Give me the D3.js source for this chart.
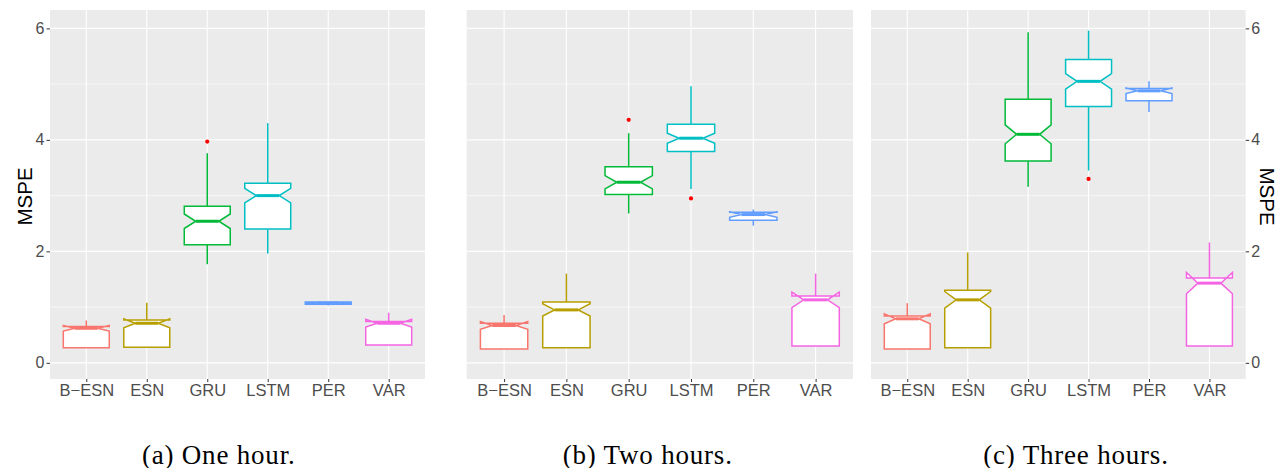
<!DOCTYPE html>
<html>
<head>
<meta charset="utf-8">
<script src="https://cdn.jsdelivr.net/npm/d3@7"></script>
<style>
  html, body { margin: 0; padding: 0; background: #ffffff; }
  svg { display: block; }
</style>
</head>
<body>
<svg id="chart" width="1280" height="468"></svg>
<script>
// Forecasting models compared on each horizon
const categories = ["B\u2212ESN", "ESN", "GRU", "LSTM", "PER", "VAR"];
const colors = ["#F8766D", "#B79F00", "#00BA38", "#00BFC4", "#619CFF", "#F564E3"];

// Box statistics per model: [ymin, lower, notchLower, median, notchUpper, upper, ymax]
const oneHourStats = [
  [0.27, 0.27, 0.57, 0.62, 0.67, 0.65, 0.76],
  [0.28, 0.28, 0.63, 0.71, 0.79, 0.77, 1.08],
  [1.77, 2.12, 2.41, 2.54, 2.67, 2.81, 3.76],
  [1.96, 2.40, 2.87, 3.00, 3.13, 3.22, 4.30],
  [1.03, 1.05, 1.065, 1.07, 1.075, 1.09, 1.10],
  [0.32, 0.32, 0.64, 0.71, 0.78, 0.74, 0.90]
];
const oneHourOutliers = [[], [], [3.97], [], [], []];

const twoHourStats = [
  [0.25, 0.25, 0.60, 0.67, 0.74, 0.71, 0.86],
  [0.27, 0.27, 0.84, 0.95, 1.06, 1.09, 1.60],
  [2.68, 3.02, 3.12, 3.24, 3.36, 3.52, 4.12],
  [3.12, 3.79, 3.94, 4.03, 4.12, 4.28, 4.96],
  [2.46, 2.56, 2.61, 2.66, 2.71, 2.70, 2.75],
  [0.30, 0.30, 0.99, 1.13, 1.27, 1.20, 1.60]
];
const twoHourOutliers = [[], [], [4.36], [2.95], [], []];

const threeHourStats = [
  [0.25, 0.25, 0.70, 0.79, 0.88, 0.84, 1.07],
  [0.27, 0.27, 0.98, 1.13, 1.28, 1.30, 1.98],
  [3.16, 3.62, 3.93, 4.10, 4.27, 4.73, 5.93],
  [3.45, 4.60, 4.91, 5.05, 5.19, 5.44, 5.96],
  [4.50, 4.70, 4.83, 4.88, 4.93, 4.92, 5.05],
  [0.30, 0.30, 1.24, 1.43, 1.62, 1.52, 2.16]
];
const threeHourOutliers = [[], [], [], [3.30], [], []];

const yMajorTicks = [0, 2, 4, 6];
const yMinorTicks = [1, 3, 5];
const yDomain = [-0.29, 6.33];
const captions = ["(a) One hour.", "(b) Two hours.", "(c) Three hours."];

const svg = d3.select("#chart");
const plotTop = 10, plotBottom = 379;

const layout = [
  { x0: 50, x1: 425, stats: oneHourStats, outliers: oneHourOutliers, axis: "left", capX: 218.7 },
  { x0: 466.7, x1: 853, stats: twoHourStats, outliers: twoHourOutliers, axis: null, capX: 647.7 },
  { x0: 871, x1: 1245.7, stats: threeHourStats, outliers: threeHourOutliers, axis: "right", capX: 1076 }
];

const y = d3.scaleLinear().domain(yDomain).range([plotBottom, plotTop]);

layout.forEach((p, pi) => {
  const x = d3.scalePoint().domain(categories).range([p.x0, p.x1]).padding(0.6);
  const step = x.step();
  const boxW = step * 0.76;
  const g = svg.append("g");

  // panel background
  g.append("rect")
    .attr("x", p.x0).attr("y", plotTop)
    .attr("width", p.x1 - p.x0).attr("height", plotBottom - plotTop)
    .attr("fill", "#EBEBEB");

  // grid lines
  g.selectAll(".minor").data(yMinorTicks).join("line")
    .attr("x1", p.x0).attr("x2", p.x1)
    .attr("y1", d => y(d)).attr("y2", d => y(d))
    .attr("stroke", "#ffffff").attr("stroke-width", 0.6);
  g.selectAll(".major").data(yMajorTicks).join("line")
    .attr("x1", p.x0).attr("x2", p.x1)
    .attr("y1", d => y(d)).attr("y2", d => y(d))
    .attr("stroke", "#ffffff").attr("stroke-width", 1.1);
  g.selectAll(".vgrid").data(categories).join("line")
    .attr("x1", d => x(d)).attr("x2", d => x(d))
    .attr("y1", plotTop).attr("y2", plotBottom)
    .attr("stroke", "#ffffff").attr("stroke-width", 1.1);

  // boxes
  categories.forEach((c, i) => {
    const [ymin, lower, nLow, med, nUp, upper, ymax] = p.stats[i];
    const cx = x(c);
    const xmin = cx - boxW / 2, xmax = cx + boxW / 2;
    const inset = boxW * 0.25;
    const col = colors[i];
    const bg = g.append("g");

    // whiskers
    bg.append("line")
      .attr("x1", cx).attr("x2", cx)
      .attr("y1", y(upper)).attr("y2", y(ymax))
      .attr("stroke", col).attr("stroke-width", 1.5);
    bg.append("line")
      .attr("x1", cx).attr("x2", cx)
      .attr("y1", y(lower)).attr("y2", y(ymin))
      .attr("stroke", col).attr("stroke-width", 1.5);

    // notched box
    const pts = [
      [xmin, y(lower)], [xmin, y(nLow)], [xmin + inset, y(med)],
      [xmin, y(nUp)], [xmin, y(upper)], [xmax, y(upper)],
      [xmax, y(nUp)], [xmax - inset, y(med)], [xmax, y(nLow)],
      [xmax, y(lower)]
    ];
    bg.append("path")
      .attr("d", d3.line()(pts) + "Z")
      .attr("fill", "#ffffff")
      .attr("stroke", col).attr("stroke-width", 1.5)
      .attr("stroke-linejoin", "miter");

    // median
    bg.append("line")
      .attr("x1", xmin + inset).attr("x2", xmax - inset)
      .attr("y1", y(med)).attr("y2", y(med))
      .attr("stroke", col).attr("stroke-width", 3);

    // outliers
    bg.selectAll("circle").data(p.outliers[i]).join("circle")
      .attr("cx", cx).attr("cy", d => y(d)).attr("r", 2.1)
      .attr("fill", "#FF0000");
  });

  // x axis
  const xAxis = g.append("g")
    .attr("transform", `translate(0,${plotBottom})`)
    .call(d3.axisBottom(x).tickSize(3).tickPadding(2));
  xAxis.select(".domain").remove();
  xAxis.selectAll(".tick line").attr("stroke", "#333333").attr("stroke-width", 1);
  xAxis.selectAll(".tick text")
    .attr("fill", "#4D4D4D")
    .style("font-family", "'Liberation Sans', Arial, sans-serif")
    .style("font-size", "16.5px");

  // y axis
  if (p.axis) {
    const isLeft = p.axis === "left";
    const yAxis = g.append("g")
      .attr("transform", `translate(${isLeft ? p.x0 : p.x1},0)`)
      .call((isLeft ? d3.axisLeft(y) : d3.axisRight(y))
        .tickValues(yMajorTicks).tickFormat(d3.format("d"))
        .tickSize(3.5).tickPadding(2));
    yAxis.select(".domain").remove();
    yAxis.selectAll(".tick line").attr("stroke", "#333333").attr("stroke-width", 1);
    yAxis.selectAll(".tick text")
      .attr("fill", "#4D4D4D")
      .style("font-family", "'Liberation Sans', Arial, sans-serif")
      .style("font-size", "16px");

    const tx = isLeft ? 24 : 1267;
    const ty = (plotTop + plotBottom) / 2 + 2;
    g.append("text")
      .attr("transform", `translate(${tx},${ty}) rotate(${isLeft ? -90 : 90})`)
      .attr("text-anchor", "middle")
      .attr("dominant-baseline", "central")
      .attr("fill", "#000000")
      .style("font-family", "'Liberation Sans', Arial, sans-serif")
      .style("font-size", "20.5px")
      .text("MSPE");
  }

  // caption
  svg.append("text")
    .attr("x", p.capX).attr("y", 463.5)
    .attr("text-anchor", "middle")
    .attr("fill", "#000000")
    .style("font-family", "'Liberation Serif', 'DejaVu Serif', serif")
    .style("font-size", "27px")
    .style("letter-spacing", "0.8px")
    .text(captions[pi]);
});
</script>
</body>
</html>
